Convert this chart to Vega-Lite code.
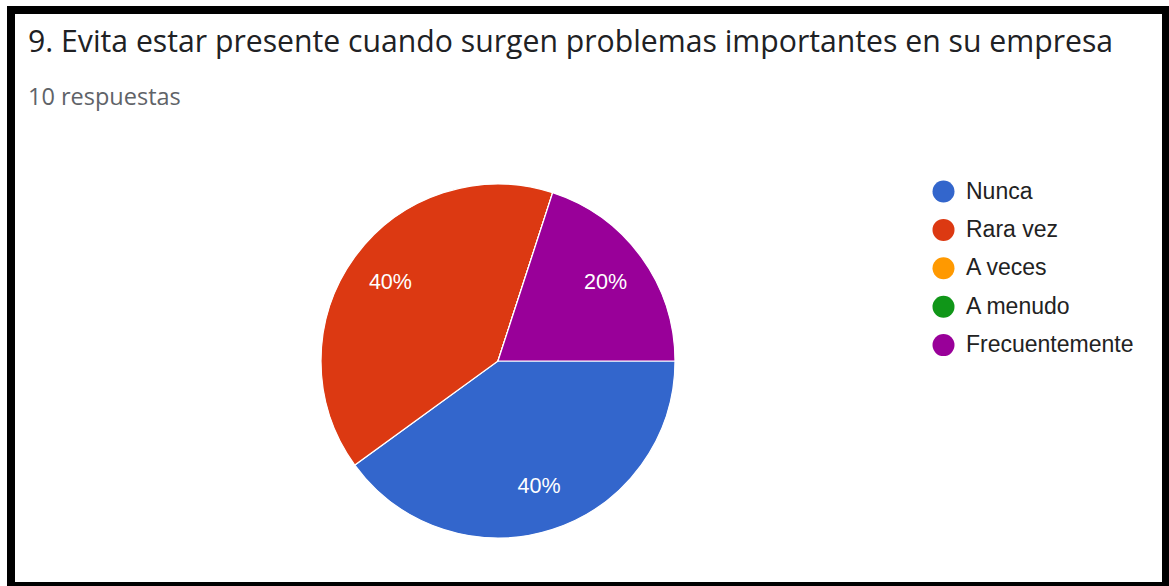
{
  "$schema": "https://vega.github.io/schema/vega-lite/v6.json",
  "autosize": {"type": "none"},
  "padding": {"left": 11, "top": 10, "right": 3, "bottom": 0},
  "width": 1155,
  "height": 576,
  "background": "white",
  "title": {
    "text": "9. Evita estar presente cuando surgen problemas importantes en su empresa",
    "subtitle": "10 respuestas",
    "anchor": "start",
    "frame": "group",
    "orient": "top",
    "offset": -103,
    "dx": 17,
    "font": "Open Sans",
    "fontSize": 30.2,
    "fontWeight": "normal",
    "color": "#202124",
    "subtitleFont": "Open Sans",
    "subtitleFontSize": 23.5,
    "subtitleColor": "#5f6368",
    "subtitlePadding": 27
  },
  "layer": [
    {
      "data": {"values": [{"marco": 1}]},
      "mark": {"type": "rect", "fill": null, "stroke": "black", "strokeWidth": 8},
      "encoding": {}
    },
    {
      "data": {
        "values": [
          {"respuesta": "Nunca", "i": 1, "pct": 0.4},
          {"respuesta": "Rara vez", "i": 2, "pct": 0.4},
          {"respuesta": "A veces", "i": 3, "pct": 0.0},
          {"respuesta": "A menudo", "i": 4, "pct": 0.0},
          {"respuesta": "Frecuentemente", "i": 5, "pct": 0.2}
        ]
      },
      "encoding": {
        "theta": {"field": "pct", "type": "quantitative", "stack": true, "scale": {"range": [1.5707963, 7.8539816]}},
        "order": {"field": "i", "type": "quantitative", "sort": "ascending"}
      },
      "layer": [
        {
          "mark": {"type": "arc", "outerRadius": 177, "stroke": "white", "strokeWidth": 1.2, "xOffset": -90.5, "yOffset": 63},
          "encoding": {
            "color": {
              "field": "respuesta",
              "type": "nominal",
              "scale": {
                "domain": ["Nunca", "Rara vez", "A veces", "A menudo", "Frecuentemente"],
                "range": ["#3366cc", "#dc3912", "#ff9900", "#109618", "#990099"]
              },
              "legend": {
                "title": null,
                "orient": "none",
                "legendX": 921,
                "legendY": 170,
                "symbolType": "circle",
                "symbolSize": 484,
                "symbolStrokeWidth": 0,
                "labelFont": "Liberation Sans",
                "labelFontSize": 23,
                "labelColor": "#222222",
                "labelOffset": 11,
                "labelLimit": 400,
                "rowPadding": 14.4,
                "padding": 0
              }
            }
          }
        },
        {
          "transform": [{"filter": "datum.pct > 0"}],
          "mark": {"type": "text", "radius": 133, "xOffset": -90.5, "yOffset": 63, "font": "Liberation Sans", "fontSize": 21.5, "fill": "white"},
          "encoding": {
            "text": {"field": "pct", "type": "quantitative", "format": ".0%"}
          }
        }
      ]
    }
  ],
  "config": {
    "view": {"stroke": "black", "strokeWidth": 8, "fill": "white"}
  }
}
